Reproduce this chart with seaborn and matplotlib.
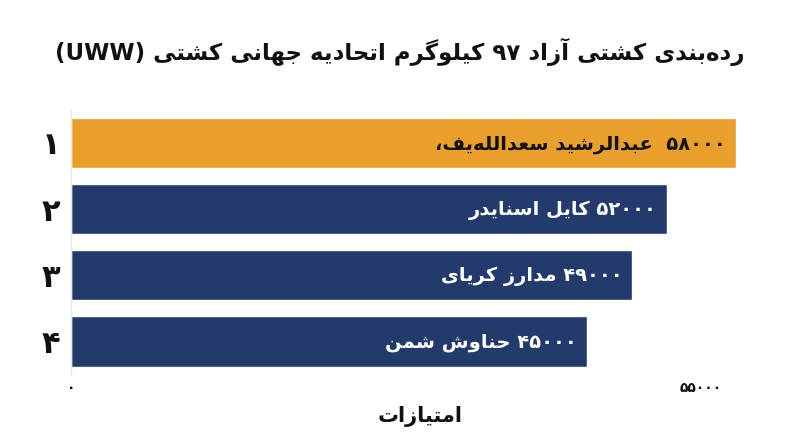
import re
import matplotlib
matplotlib.use("Agg")
import matplotlib.pyplot as plt
import seaborn as sns
import pandas as pd

# ---------------- data ----------------
ranks = ["۱", "۲", "۳", "۴"]
names = ["عبدالرشید سعدالله‌یف،", "کایل اسنایدر", "مدارز کریای", "حناوش شمن"]
points = [58000, 52000, 49000, 45000]
bar_colors = ["#E8A02B", "#233A6C", "#233A6C", "#233A6C"]
label_colors = ["#111111", "white", "white", "white"]
x_ticks = [0, 55000]
title = "رده‌بندی کشتی آزاد ۹۷ کیلوگرم اتحادیه جهانی کشتی (UWW)"
x_label = "امتیازات"

# ---------------- minimal Arabic/Persian shaping + RTL ordering ----------------
FORMS = {
    '\u0627': ('\uFE8D', '\uFE8E', None, None),
    '\u0622': ('\uFE81', '\uFE82', None, None),
    '\u0628': ('\uFE8F', '\uFE90', '\uFE91', '\uFE92'),
    '\u067E': ('\uFB56', '\uFB57', '\uFB58', '\uFB59'),
    '\u062A': ('\uFE95', '\uFE96', '\uFE97', '\uFE98'),
    '\u062B': ('\uFE99', '\uFE9A', '\uFE9B', '\uFE9C'),
    '\u062C': ('\uFE9D', '\uFE9E', '\uFE9F', '\uFEA0'),
    '\u0686': ('\uFB7A', '\uFB7B', '\uFB7C', '\uFB7D'),
    '\u062D': ('\uFEA1', '\uFEA2', '\uFEA3', '\uFEA4'),
    '\u062E': ('\uFEA5', '\uFEA6', '\uFEA7', '\uFEA8'),
    '\u062F': ('\uFEA9', '\uFEAA', None, None),
    '\u0630': ('\uFEAB', '\uFEAC', None, None),
    '\u0631': ('\uFEAD', '\uFEAE', None, None),
    '\u0632': ('\uFEAF', '\uFEB0', None, None),
    '\u0698': ('\uFB8A', '\uFB8B', None, None),
    '\u0633': ('\uFEB1', '\uFEB2', '\uFEB3', '\uFEB4'),
    '\u0634': ('\uFEB5', '\uFEB6', '\uFEB7', '\uFEB8'),
    '\u0635': ('\uFEB9', '\uFEBA', '\uFEBB', '\uFEBC'),
    '\u0636': ('\uFEBD', '\uFEBE', '\uFEBF', '\uFEC0'),
    '\u0637': ('\uFEC1', '\uFEC2', '\uFEC3', '\uFEC4'),
    '\u0638': ('\uFEC5', '\uFEC6', '\uFEC7', '\uFEC8'),
    '\u0639': ('\uFEC9', '\uFECA', '\uFECB', '\uFECC'),
    '\u063A': ('\uFECD', '\uFECE', '\uFECF', '\uFED0'),
    '\u0641': ('\uFED1', '\uFED2', '\uFED3', '\uFED4'),
    '\u0642': ('\uFED5', '\uFED6', '\uFED7', '\uFED8'),
    '\u06A9': ('\uFB8E', '\uFB8F', '\uFB90', '\uFB91'),
    '\u0643': ('\uFED9', '\uFEDA', '\uFEDB', '\uFEDC'),
    '\u06AF': ('\uFB92', '\uFB93', '\uFB94', '\uFB95'),
    '\u0644': ('\uFEDD', '\uFEDE', '\uFEDF', '\uFEE0'),
    '\u0645': ('\uFEE1', '\uFEE2', '\uFEE3', '\uFEE4'),
    '\u0646': ('\uFEE5', '\uFEE6', '\uFEE7', '\uFEE8'),
    '\u0648': ('\uFEED', '\uFEEE', None, None),
    '\u0647': ('\uFEE9', '\uFEEA', '\uFEEB', '\uFEEC'),
    '\u06CC': ('\uFBFC', '\uFBFD', '\uFBFE', '\uFBFF'),
    '\u064A': ('\uFEF1', '\uFEF2', '\uFEF3', '\uFEF4'),
}
TRANSPARENT = set('\u064B\u064C\u064D\u064E\u064F\u0650\u0651\u0652\u0670')
LIGS = {('\uFEDF', '\uFE8E'): '\uFEFB', ('\uFEE0', '\uFE8E'): '\uFEFC',
        ('\uFEDF', '\uFE82'): '\uFEF5', ('\uFEE0', '\uFE82'): '\uFEF6'}
MIRROR = {'(': ')', ')': '('}


def _dual(c):
    return c in FORMS and FORMS[c][2] is not None


def shape(s):
    chars = [c for c in s if c not in TRANSPARENT]
    out = []
    n = len(chars)
    for i, c in enumerate(chars):
        if c not in FORMS:
            out.append(c)
            continue
        prev = chars[i - 1] if i > 0 else None
        nxt = chars[i + 1] if i + 1 < n else None
        cp = prev is not None and _dual(prev)
        cn = _dual(c) and nxt is not None and nxt in FORMS
        iso, fin, ini, med = FORMS[c]
        out.append(med if (cp and cn) else fin if cp else ini if cn else iso)
    res = []
    for c in out:
        if c == '\u200c':
            continue
        if res and (res[-1], c) in LIGS:
            res[-1] = LIGS[(res[-1], c)]
        else:
            res.append(c)
    return ''.join(res)


def rtl(s):
    shaped = shape(s)
    toks = re.findall(r'[A-Za-z0-9\u06F0-\u06F9]+|.', shaped)
    toks = [MIRROR.get(t, t) for t in toks[::-1]]
    return ''.join(toks)


def fa_num(v):
    return str(v).translate(str.maketrans('0123456789', '۰۱۲۳۴۵۶۷۸۹'))


# ---------------- plot ----------------
sns.set_theme(style="white")
plt.rcParams['font.family'] = ['DejaVu Sans']
plt.rcParams['text.color'] = '#111111'
plt.rcParams['xtick.color'] = '#111111'
plt.rcParams['ytick.color'] = '#111111'
plt.rcParams['axes.labelcolor'] = '#111111'

df = pd.DataFrame({"rank": ranks, "points": points})

fig = plt.figure(figsize=(8.0, 4.47), dpi=100)
ax = fig.add_axes([0.08875, 0.163, 0.87375, 0.591])

sns.barplot(data=df, x="points", y="rank", hue="rank", palette=bar_colors,
            orient="h", width=0.77, legend=False, ax=ax, saturation=1)

ax.set_xlim(0, 61000)
for i, (v, nm) in enumerate(zip(points, names)):
    lab = fa_num(v) + ("  " if i == 0 else " ") + nm
    ax.annotate(rtl(lab), xy=(v, i), xytext=(-7, -1), textcoords="offset points",
                ha="right", va="center", fontsize=14, fontweight="bold",
                color=label_colors[i])

ax.set_xticks(x_ticks)
ax.set_xticklabels([fa_num(t) for t in x_ticks], fontsize=10, fontweight="bold")
ax.tick_params(axis="x", length=0, pad=5)
ax.tick_params(axis="y", length=0, pad=8)
for t in ax.get_yticklabels():
    t.set_fontsize(22)
    t.set_fontweight("bold")

ax.set_ylabel("")
ax.set_xlabel(rtl(x_label), fontsize=15, fontweight="bold", labelpad=8)

for s in ["top", "right", "bottom"]:
    ax.spines[s].set_visible(False)
ax.spines["left"].set_color("#E6E6E6")
ax.spines["left"].set_linewidth(1.0)

fig.text(0.5, 0.885, rtl(title), ha="center", va="center",
         fontsize=16.5, fontweight="bold", color="#111111")

fig.savefig("out.png", dpi=100, facecolor="white")
